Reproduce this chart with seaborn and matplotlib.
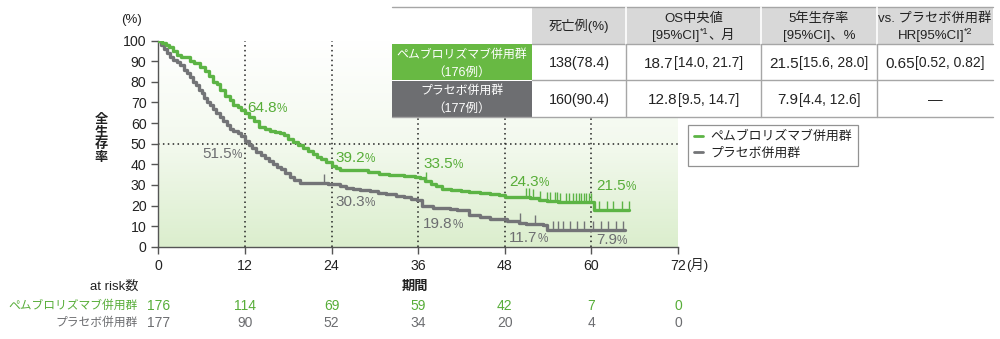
import numpy as np
import matplotlib
matplotlib.use("Agg")
import matplotlib.pyplot as plt
import seaborn as sns
from matplotlib.transforms import Affine2D, blended_transform_factory
from matplotlib.patches import Rectangle
from matplotlib.lines import Line2D
from matplotlib.colors import LinearSegmentedColormap

# ---------------- data ----------------
pembro_t = [0, 0.5, 1, 1.5, 2, 2.6, 3.2, 4.4, 5, 5.8, 6.5, 7, 7.6, 8.2, 8.6, 9.2, 10, 10.4, 11, 11.5,
            12, 12.6, 13.2, 14, 14.8, 15.5, 16.2, 16.8, 17.4, 18, 18.6, 19.3, 20, 20.7, 21.4, 22, 22.6,
            23.3, 24, 24.6, 25.2, 27, 29, 30.6, 32, 34, 35.5, 36.3, 37, 37.8, 38.5, 39.3, 40.5, 42, 43,
            44.5, 46, 47.2, 48.1, 50, 51.5, 52.7, 53.8, 55.4, 58, 60.3, 65.2]
pembro_s = [100, 99, 98, 97, 95, 93, 92, 90, 89, 87, 85.5, 83, 80, 79, 76, 73, 71, 69, 68, 66.5,
            64.8, 63, 61, 58, 57, 56, 55.5, 55, 54, 52.5, 51, 49.5, 48, 46.5, 45, 43.5, 42.5,
            41, 39.2, 38, 37, 37, 36.5, 35.3, 35, 34.5, 34, 33.5, 32, 30.5, 29.5, 28, 27.5, 27, 26.5,
            26, 25.5, 25, 24.3, 24, 23.5, 22.5, 22, 21.5, 21.5, 17.8, 17.8]

placebo_t = [0, 0.4, 0.8, 1.2, 1.6, 2, 2.6, 3, 3.5, 4, 4.4, 4.8, 5.2, 5.6, 6, 6.4, 6.8, 7.2, 7.6, 8,
             8.5, 9, 9.5, 10, 10.4, 11, 11.5, 12, 12.5, 13, 13.6, 14.2, 14.8, 15.4, 15.9, 16.5, 17,
             17.6, 18.2, 18.8, 19.6, 22, 23.5, 24.5, 25.2, 26, 27, 28, 29.3, 30.5, 31.5, 33, 34, 35,
             35.8, 36.5, 38, 40.4, 41.4, 43, 44.6, 46, 48.3, 50, 51, 53.3, 53.8, 64.6]
placebo_s = [100, 98, 96, 94, 92, 90.5, 89.5, 88, 86, 84.5, 82.5, 80, 78.5, 76, 74.5, 72, 70, 69, 67, 65,
             63, 61, 59, 57, 56, 55, 53.5, 51.5, 49.5, 48, 46, 44.5, 43, 41.5, 40, 38.5, 37.5,
             36, 34, 32.5, 31, 30.8, 30.5, 30.3, 29.5, 28.5, 28, 27.5, 27, 26, 25.5, 24.5, 24, 23,
             22.5, 19.8, 19, 18.5, 17.8, 15.5, 14.5, 13.5, 12.5, 11.7, 11, 10.5, 8, 8]

pembro_censor = [37.1, 50.9, 51.4, 51.9, 52.9, 53.8, 54.3, 54.9, 55.2, 55.6, 56.5, 56.9, 57.4, 57.8,
                 58.3, 58.6, 59.0, 59.3, 59.7, 60.0, 61.1, 62.1, 63.0, 64.2, 65.2]
placebo_censor = [23.0, 50.1, 52.2, 54.7, 55.4, 56.1, 57.0, 58.0, 59.0, 60.2, 61.4, 62.3, 63.4, 64.4]

landmark_months = [12, 24, 36, 48, 60]
pembro_landmark = ["64.8", "39.2", "33.5", "24.3", "21.5"]
placebo_landmark = ["51.5", "30.3", "19.8", "11.7", "7.9"]

risk_months = [0, 12, 24, 36, 48, 60, 72]
pembro_risk = [176, 114, 69, 59, 42, 7, 0]
placebo_risk = [177, 90, 52, 34, 20, 4, 0]

x_ticks = [0, 12, 24, 36, 48, 60, 72]
y_ticks = [0, 10, 20, 30, 40, 50, 60, 70, 80, 90, 100]

group_names = ["ペムブロリズマブ併用群", "プラセボ併用群"]
group_n = ["（176例）", "（177例）"]
col_deaths = ["138(78.4)", "160(90.4)"]
col_os = [("18.7", "[14.0, 21.7]"), ("12.8", "[9.5, 14.7]")]
col_5y = [("21.5", "[15.6, 28.0]"), ("7.9", "[4.4, 12.6]")]
col_hr = [("0.65", "[0.52, 0.82]"), None]

# ---------------- style ----------------
W, H = 1000, 339
sns.set_theme(style="ticks")
plt.rcParams["font.family"] = ["Liberation Sans", "Noto Sans CJK JP", "DejaVu Sans"]

GREEN = "#5cb445"
GREEN_TXT = "#57ad38"
GRAY = "#737477"
GRAY_TXT = "#6c6d70"
DARK = "#222222"

fig = plt.figure(figsize=(W / 100, H / 100), dpi=100)
T = Affine2D().scale(1 / W, -1 / H).translate(0, 1) + fig.transFigure

X0, X1, Y0, Y1 = 158.3, 678.0, 246.7, 40.7
ax = fig.add_axes([X0 / W, 1 - Y0 / H, (X1 - X0) / W, (Y0 - Y1) / H])

# gradient background
cmap = LinearSegmentedColormap.from_list("g", ["#dbeecd", "#f3f9ee", "#ffffff"])
ax.imshow(np.linspace(0, 1, 256).reshape(-1, 1), extent=[0, 72, 0, 100], origin="lower",
          aspect="auto", cmap=cmap, zorder=0)

# reference lines
for m in landmark_months:
    ax.axvline(m, ymin=0, ymax=1, color=DARK, lw=1.1, ls=(0, (1, 2.2)), zorder=1)
ax.axhline(50, color=DARK, lw=1.1, ls=(0, (1, 2.2)), zorder=1)

# curves
sns.lineplot(x=placebo_t, y=placebo_s, drawstyle="steps-post", color=GRAY, lw=2.4, ax=ax,
             sort=False, estimator=None, zorder=3)
sns.lineplot(x=pembro_t, y=pembro_s, drawstyle="steps-post", color=GREEN, lw=2.4, ax=ax,
             sort=False, estimator=None, zorder=4)


def step_value(ts, ss, c):
    i = np.searchsorted(np.asarray(ts), c, side="right") - 1
    return np.asarray(ss)[i]


for ts, ss, cs, col in [(pembro_t, pembro_s, pembro_censor, GREEN),
                        (placebo_t, placebo_s, placebo_censor, GRAY)]:
    ys = np.array([step_value(ts, ss, c) for c in cs])
    ax.vlines(cs, ys, ys + 4.5, color=col, lw=1.0, zorder=4)

ax.set_xlim(0, 72)
ax.set_ylim(0, 100)
ax.set_xticks(x_ticks)
ax.set_xticklabels([str(v) for v in x_ticks])
ax.set_yticks(y_ticks)
ax.set_yticklabels([str(v) for v in y_ticks])
for s in ["top", "right"]:
    ax.spines[s].set_visible(False)
for s in ["left", "bottom"]:
    ax.spines[s].set_color("#555555")
    ax.spines[s].set_linewidth(1.0)
ax.tick_params(direction="out", length=5, width=1, color="#555555", labelsize=10.2,
               labelcolor=DARK, pad=3.5)
ax.set_xlabel("")
ax.set_ylabel("")

renderer = fig.canvas.get_renderer()


def runs_text(xc, yc, runs, color, transform, ha="center", zorder=10):
    """runs: list of (text, size_pt, raise_px)"""
    texts = []
    for txt, size, rz in runs:
        t = fig.text(0, 0, txt, fontsize=size, color=color, transform=transform,
                     ha="left", va="baseline", zorder=zorder)
        texts.append((t, size, rz))
    widths = [t.get_window_extent(renderer).width for t, _, _ in texts]
    total = sum(widths)
    main_px = max(r[1] for r in runs) * 100 / 72
    base = yc + 0.36 * main_px
    x = xc - total / 2 if ha == "center" else (xc if ha == "left" else xc - total)
    for (t, size, rz), w in zip(texts, widths):
        t.set_position((x, base - rz))
        x += w
    return texts


# landmark labels (positions in pixels)
pem_pos = [(247, 106), (335, 157), (423, 162), (509, 181), (596, 185)]
pla_pos = [(242, 152), (335, 200), (423, 223), (509, 237), (596, 238)]
for lbl, (px, py) in zip(pembro_landmark, pem_pos):
    runs_text(px, py, [(lbl, 11, 0), ("%", 8.5, 0)], GREEN_TXT, T, ha="left", zorder=6)
for i, (lbl, (px, py)) in enumerate(zip(placebo_landmark, pla_pos)):
    runs_text(px, py, [(lbl, 11, 0), ("%", 8.5, 0)], GRAY_TXT, T,
              ha="right" if i == 0 else "left", zorder=6)

# axis annotations
fig.text(131, 20, "(%)", transform=T, fontsize=9.5, ha="center", va="center", color=DARK)
fig.text(101, 139, "全\n生\n存\n率", transform=T, fontsize=9.5, ha="center", va="center",
         color=DARK, linespacing=1.05, fontweight="bold")
fig.text(686, 265, "(月)", transform=T, fontsize=9.5, ha="left", va="center", color=DARK)
fig.text(415, 287, "期間", transform=T, fontsize=9.5, ha="center", va="center", color=DARK,
         fontweight="bold")
fig.text(138, 287, "at risk数", transform=T, fontsize=9.5, ha="right", va="center", color=DARK)

# at risk table
bt = blended_transform_factory(ax.transData, T)
fig.text(138, 306, group_names[0], transform=T, fontsize=8.5, ha="right", va="center", color=GREEN_TXT)
fig.text(138, 323, group_names[1], transform=T, fontsize=8.5, ha="right", va="center", color=GRAY_TXT)
for m, a, b in zip(risk_months, pembro_risk, placebo_risk):
    fig.text(m, 306, str(a), transform=bt, fontsize=10, ha="center", va="center", color=GREEN_TXT)
    fig.text(m, 323, str(b), transform=bt, fontsize=10, ha="center", va="center", color=GRAY_TXT)

# legend
handles = [Line2D([], [], color=GREEN, lw=2), Line2D([], [], color=GRAY, lw=2)]
leg = ax.legend(handles, group_names, loc="upper left", bbox_to_anchor=(688 / W, 1 - 125 / H),
                bbox_transform=fig.transFigure, frameon=True, fancybox=False, edgecolor="#777777",
                fontsize=9.3, handlelength=0.7, handletextpad=0.6, borderpad=0.45,
                labelspacing=0.35, borderaxespad=0)
leg.get_frame().set_linewidth(0.9)
for t in leg.get_texts():
    t.set_color(DARK)

# summary table
cols = [392, 532, 626, 761, 877, 993]
rows = [7, 44, 80, 117]
fig.add_artist(Rectangle((cols[0], rows[0]), cols[-1] - cols[0], rows[-1] - rows[0],
                         transform=T, facecolor="white", edgecolor="none", zorder=5))
fig.add_artist(Rectangle((cols[1], rows[0]), cols[-1] - cols[1], rows[1] - rows[0],
                         transform=T, facecolor="#d8d8d8", edgecolor="none", zorder=6))
fig.add_artist(Rectangle((cols[0], rows[1]), cols[1] - cols[0], rows[2] - rows[1],
                         transform=T, facecolor="#68b943", edgecolor="none", zorder=6))
fig.add_artist(Rectangle((cols[0], rows[2] + 1), cols[1] - cols[0], rows[3] - rows[2] - 1,
                         transform=T, facecolor="#6d6e71", edgecolor="none", zorder=6))
for y, xa in [(rows[0], cols[0]), (rows[1], cols[1]), (rows[2], cols[1]), (rows[3], cols[0])]:
    fig.add_artist(Line2D([xa, cols[-1]], [y, y], transform=T, color="#a6a6a6", lw=1.0, zorder=7))
for x in cols[2:5]:
    fig.add_artist(Line2D([x, x], [rows[0], rows[1]], transform=T, color="white", lw=1.2, zorder=7))
    fig.add_artist(Line2D([x, x], [rows[1], rows[3]], transform=T, color="#a6a6a6", lw=1.0, zorder=7))

cx = [(cols[i] + cols[i + 1]) / 2 for i in range(5)]
# header
runs_text(cx[1], 25.5, [("死亡例(%)", 9.5, 0)], DARK, T)
runs_text(cx[2], 17, [("OS中央値", 9.5, 0)], DARK, T)
runs_text(cx[2], 34, [("[95%CI]", 9.5, 0), ("*1", 6.5, 5), ("、月", 9.5, 0)], DARK, T)
runs_text(cx[3], 17, [("5年生存率", 9.5, 0)], DARK, T)
runs_text(cx[3], 34, [("[95%CI]、%", 9.5, 0)], DARK, T)
runs_text(cx[4], 17, [("vs. プラセボ併用群", 9.5, 0)], DARK, T)
runs_text(cx[4], 34, [("HR[95%CI]", 9.5, 0), ("*2", 6.5, 5)], DARK, T)
# row labels
for i, (nm, n) in enumerate(zip(group_names, group_n)):
    top = rows[1 + i]
    runs_text(cx[0], top + 10, [(nm, 8.6, 0)], "white", T)
    runs_text(cx[0], top + 27, [(n, 9, 0)], "white", T)
# cells
for i in range(2):
    yc = (rows[1 + i] + rows[2 + i]) / 2
    runs_text(cx[1], yc, [(col_deaths[i], 10.3, 0)], DARK, T)
    runs_text(cx[2], yc, [(col_os[i][0], 11, 0), (col_os[i][1], 10, 0)], DARK, T)
    runs_text(cx[3], yc, [(col_5y[i][0], 11, 0), (col_5y[i][1], 10, 0)], DARK, T)
    if col_hr[i] is not None:
        runs_text(cx[4], yc, [(col_hr[i][0], 11, 0), (col_hr[i][1], 10, 0)], DARK, T)
    else:
        runs_text(cx[4], yc, [("—", 10.5, 0)], DARK, T)

fig.savefig("out.png", dpi=100)
